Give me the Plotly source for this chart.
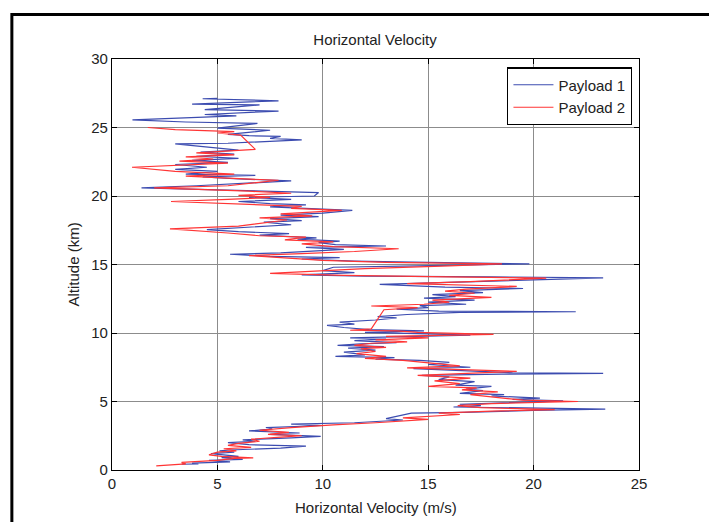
import plotly.graph_objects as go

# Payload 1 (blue): horizontal velocity (m/s) and altitude (km), bottom to top
p1_vel = [3.3, 4.1, 3.8, 5.6, 4.6, 6.2, 5.2, 6.0, 4.7, 5.8, 5.1, 5.6, 8.0, 9.2, 6.5, 5.5, 6.8, 6.2, 8.5, 9.9,
          7.5, 8.9, 6.5, 7.6, 7.3, 10.0, 8.5, 11.5, 13.8, 13.0, 14.2, 16.7, 20.0, 23.4, 16.2, 17.5, 16.5, 19.5, 21.4, 19.0,
          20.3, 18.0, 18.6, 16.5, 17.6, 16.8, 18.0, 16.3, 17.2, 15.5, 16.0, 14.7, 18.5, 23.3, 19.0, 14.3, 17.0, 15.0, 16.0, 14.6,
          12.5, 13.4, 10.6, 12.0, 11.0, 12.5, 11.2, 12.9, 10.7, 11.8, 13.5, 11.5, 13.0, 11.3, 13.8, 17.0, 14.5, 12.0, 14.8, 12.2,
          11.0, 10.2, 11.5, 10.8, 12.5, 13.5, 12.6, 14.0, 16.5, 22.0, 15.5, 13.5, 15.0, 14.6, 16.8, 15.0, 17.2, 14.8, 16.3, 15.2,
          17.6, 16.5, 19.5, 15.8, 12.7, 15.0, 17.0, 20.5, 23.3, 18.0, 12.0, 9.0, 11.5, 10.0, 10.5, 14.5, 19.8, 15.0, 11.5, 9.0,
          10.8, 7.5, 5.6, 8.0, 9.5, 11.0, 9.2, 13.0, 10.6, 9.8, 10.8, 8.8, 9.7, 8.5, 7.0, 8.4, 6.0, 4.5, 6.5, 8.5,
          7.2, 9.0, 7.5, 9.8, 8.0, 10.0, 11.4, 9.5, 7.5, 9.2, 7.5, 6.0, 8.5, 6.5, 9.6, 9.8, 7.0, 5.5, 1.4, 4.0,
          6.0, 8.5, 6.0, 4.3, 6.8, 3.5, 5.0, 3.0, 4.5, 3.0, 5.5, 3.8, 6.0, 4.0, 5.8, 4.2, 6.0, 3.0, 5.5, 9.0,
          7.5, 8.0, 6.5, 5.5, 7.5, 5.0, 6.9, 3.5, 0.97, 3.5, 5.9, 4.4, 7.9, 4.4, 7.0, 3.8, 7.9, 4.3, 5.0]
p1_alt = [0.42, 0.44, 0.5, 0.6, 0.7, 0.78, 0.9, 1.0, 1.2, 1.3, 1.4, 1.46, 1.6, 1.75, 1.85, 2.0, 2.1, 2.2, 2.35, 2.45,
          2.6, 2.7, 2.85, 3.0, 3.1, 3.25, 3.35, 3.45, 3.65, 3.75, 4.15, 4.2, 4.35, 4.45, 4.6, 4.7, 4.8, 4.95, 5.05, 5.15,
          5.25, 5.4, 5.5, 5.6, 5.8, 5.9, 6.1, 6.2, 6.45, 6.6, 6.8, 6.9, 7.0, 7.06, 7.1, 7.4, 7.5, 7.7, 7.85, 8.0,
          8.1, 8.2, 8.3, 8.4, 8.6, 8.75, 8.9, 9.0, 9.1, 9.2, 9.3, 9.45, 9.55, 9.65, 9.75, 9.85, 9.95, 10.05, 10.15, 10.25,
          10.4, 10.55, 10.65, 10.8, 10.95, 11.1, 11.2, 11.35, 11.5, 11.55, 11.6, 11.75, 11.85, 12.0, 12.1, 12.25, 12.4, 12.55, 12.65, 12.8,
          12.95, 13.1, 13.25, 13.35, 13.55, 13.65, 13.75, 13.9, 14.02, 14.1, 14.15, 14.25, 14.4, 14.55, 14.8, 14.9, 15.05, 15.15, 15.25, 15.4,
          15.5, 15.6, 15.75, 15.85, 16.0, 16.1, 16.25, 16.35, 16.45, 16.6, 16.7, 16.85, 16.95, 17.05, 17.15, 17.25, 17.4, 17.55, 17.7, 17.9,
          18.1, 18.2, 18.35, 18.5, 18.6, 18.75, 18.95, 19.05, 19.2, 19.35, 19.45, 19.6, 19.75, 19.9, 20.0, 20.25, 20.35, 20.45, 20.6, 20.75,
          20.9, 21.1, 21.25, 21.4, 21.5, 21.6, 21.8, 21.95, 22.1, 22.3, 22.45, 22.6, 22.75, 22.9, 23.05, 23.2, 23.35, 23.8, 23.85, 24.1,
          24.2, 24.35, 24.4, 24.5, 24.8, 24.95, 25.3, 25.4, 25.55, 25.7, 25.85, 25.95, 26.2, 26.3, 26.65, 26.7, 26.95, 27.1, 27.12]

# Payload 2 (red)
p2_vel = [2.1, 3.5, 3.3, 5.0, 5.8, 6.7, 5.2, 4.6, 5.0, 5.9, 5.3, 6.6, 5.5, 6.0, 7.0, 6.6, 8.0, 9.0, 7.4, 8.4,
          7.0, 8.5, 10.5, 12.5, 15.0, 13.8, 16.5, 15.5, 18.0, 21.0, 17.5, 16.4, 18.0, 20.0, 22.1, 19.5, 18.2, 17.0, 18.3, 16.6,
          17.3, 15.0, 16.5, 15.3, 17.0, 14.5, 19.2, 15.5, 14.0, 16.5, 15.0, 13.8, 12.0, 13.0, 11.6, 12.5, 11.8, 13.0, 11.5, 12.3,
          14.0, 12.5, 15.0, 13.0, 18.1, 14.5, 13.5, 11.3, 12.3, 12.9, 14.5, 12.3, 14.8, 16.0, 15.2, 18.0, 16.0, 17.2, 15.8, 16.8,
          19.2, 16.0, 14.0, 17.0, 20.6, 16.0, 11.0, 7.5, 9.5, 12.0, 16.0, 18.5, 13.0, 10.0, 8.0, 6.5, 9.0, 11.5, 13.6, 10.5,
          9.0, 10.5, 8.2, 9.2, 7.0, 5.5, 2.75, 6.0, 8.3, 7.0, 9.5, 8.0, 10.9, 8.5, 9.0, 6.0, 2.8, 5.5, 7.5, 6.0,
          8.5, 6.5, 4.0, 2.0, 5.5, 7.9, 5.5, 3.5, 5.8, 3.0, 0.95, 3.5, 5.5, 3.2, 4.8, 3.5, 5.8, 4.0, 6.8, 6.1,
          5.0, 5.8, 3.0, 1.7]
p2_alt = [0.3, 0.45, 0.55, 0.7, 0.85, 0.88, 1.0, 1.1, 1.3, 1.4, 1.55, 1.65, 1.8, 1.95, 2.1, 2.25, 2.4, 2.5, 2.6, 2.75,
          2.9, 3.1, 3.3, 3.45, 3.7, 3.8, 4.05, 4.15, 4.3, 4.4, 4.55, 4.7, 4.85, 4.95, 5.0, 5.1, 5.3, 5.5, 5.7, 5.85,
          6.0, 6.1, 6.3, 6.5, 6.7, 6.9, 7.2, 7.35, 7.45, 7.6, 7.8, 8.0, 8.15, 8.3, 8.5, 8.65, 8.85, 8.95, 9.1, 9.25,
          9.35, 9.5, 9.65, 9.75, 9.9, 10.05, 10.15, 10.2, 10.3, 11.7, 11.85, 11.97, 12.1, 12.25, 12.4, 12.6, 12.75, 12.9, 13.05, 13.2,
          13.4, 13.5, 13.6, 13.75, 14.0, 14.1, 14.2, 14.35, 14.5, 14.7, 14.9, 15.05, 15.15, 15.3, 15.5, 15.65, 15.8, 15.95, 16.15, 16.3,
          16.5, 16.65, 16.8, 17.0, 17.1, 17.3, 17.6, 17.8, 18.25, 18.4, 18.55, 18.7, 18.95, 19.1, 19.25, 19.4, 19.6, 19.75, 19.9, 20.05,
          20.2, 20.35, 20.5, 20.6, 20.75, 21.15, 21.3, 21.45, 21.6, 21.8, 22.1, 22.25, 22.4, 22.55, 22.7, 22.85, 23.0, 23.15, 23.4, 24.45,
          24.6, 24.7, 24.85, 25.0]

x_ticks = [0, 5, 10, 15, 20, 25]
y_ticks = [0, 5, 10, 15, 20, 25, 30]

FONT = "Liberation Sans, Arial, Helvetica, sans-serif"

fig = go.Figure()
fig.add_trace(go.Scatter(x=p1_vel, y=p1_alt, mode="lines", name="Payload 1",
                         line=dict(color="#3c4cb0", width=1.2)))
fig.add_trace(go.Scatter(x=p2_vel, y=p2_alt, mode="lines", name="Payload 2",
                         line=dict(color="#ff3535", width=1.2)))

axis_common = dict(showline=True, linecolor="black", linewidth=1.3, mirror="ticks",
                   ticks="inside", ticklen=5, tickcolor="black",
                   showgrid=True, gridcolor="#8c8c8c", gridwidth=1, zeroline=False,
                   tickfont=dict(family=FONT, size=15, color="#222"))

fig.update_xaxes(range=[0, 25], tickvals=x_ticks, **axis_common)
fig.update_yaxes(range=[0, 30], tickvals=y_ticks, **axis_common)

fig.update_layout(
    width=717, height=522,
    margin=dict(l=104, r=86, t=51, b=60),
    paper_bgcolor="white", plot_bgcolor="white",
    title=dict(text="Horizontal Velocity", x=367 / 717, xanchor="center",
               y=1 - 32 / 522, yanchor="middle", font=dict(family=FONT, size=15, color="#222")),
    showlegend=True,
    legend=dict(x=0.987, xanchor="right", y=0.98, yanchor="top", bgcolor="white",
                bordercolor="black", borderwidth=1.3, font=dict(family=FONT, size=15, color="#222"),
                tracegroupgap=0, itemwidth=40),
    annotations=[
        dict(text="Horizontal Velocity (m/s)", xref="paper", yref="paper", x=0.5, y=-0.092,
             xanchor="center", yanchor="middle", showarrow=False,
             font=dict(family=FONT, size=15, color="#222")),
        dict(text="Altitude (km)", xref="paper", yref="paper", x=-0.074, y=0.5, textangle=-90,
             xanchor="center", yanchor="middle", showarrow=False,
             font=dict(family=FONT, size=15, color="#222")),
    ],
    shapes=[dict(type="rect", xref="paper", yref="paper", x0=-0.19, x1=1.142, y0=-0.14, y1=1.108,
                 line=dict(color="black", width=3), fillcolor="rgba(0,0,0,0)", layer="below")],
)

fig.write_html("out.html")
